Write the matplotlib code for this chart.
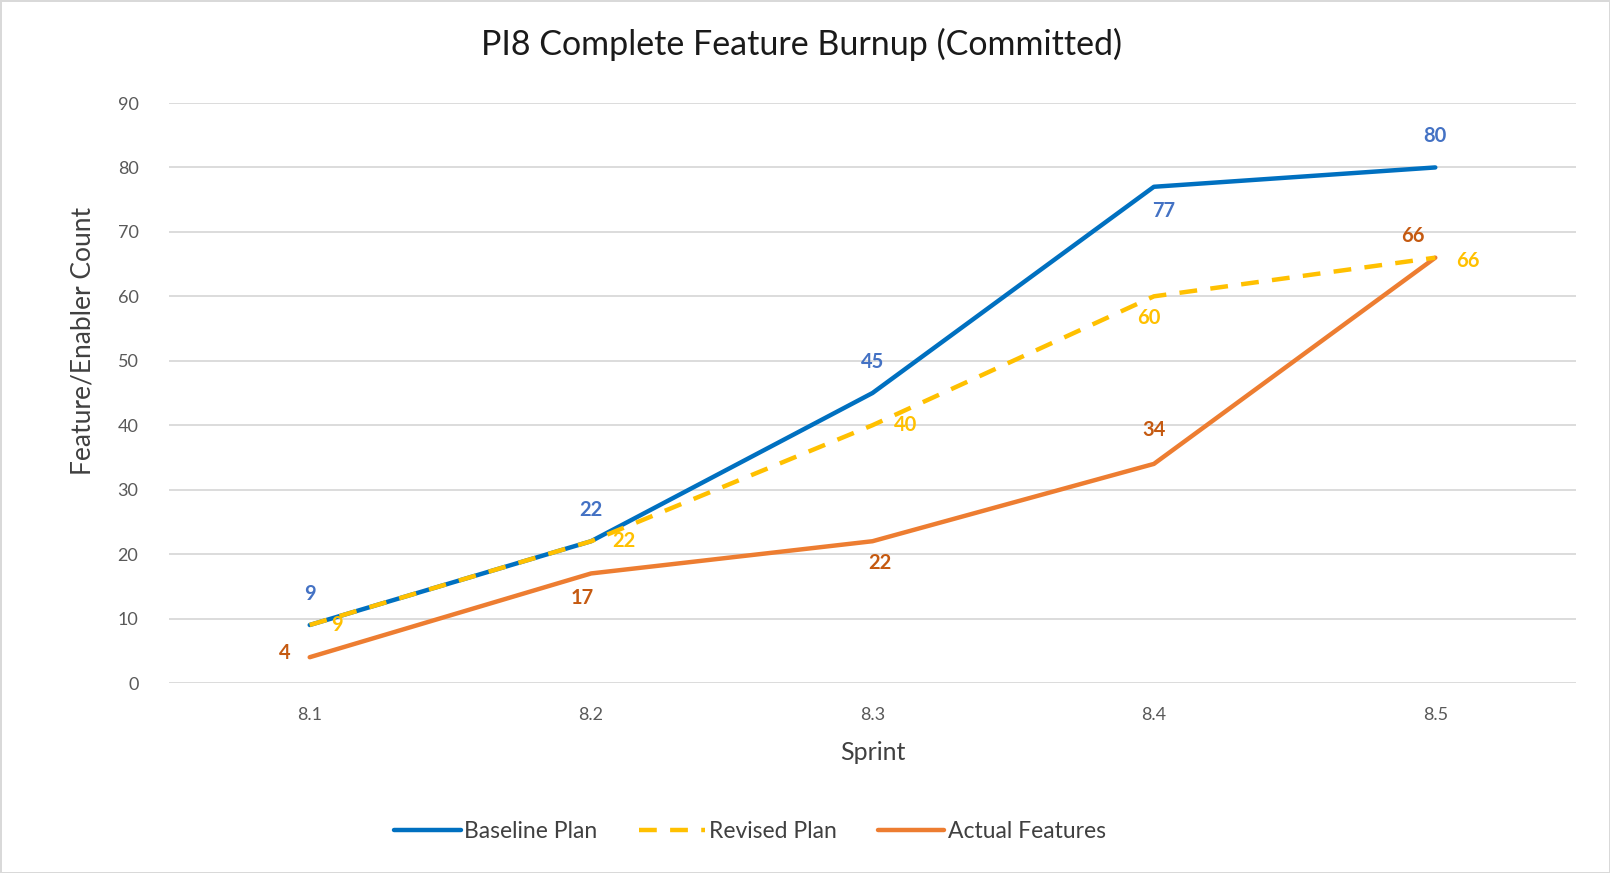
import matplotlib.pyplot as plt

plt.rcParams['font.family'] = ['Lato', 'DejaVu Sans']

# data
sprints = ['8.1', '8.2', '8.3', '8.4', '8.5']
baseline = [9, 22, 45, 77, 80]
revised = [9, 22, 40, 60, 66]
actual = [4, 17, 22, 34, 66]

# label offsets (pixels) for each point
baseline_off = [(0, 31), (0, 31), (0, 31), (10, -24), (0, 31)]
revised_off = [(27, 0), (33, 0), (33, 0), (-5, -22), (33, -3)]
actual_off = [(-25, 4), (-9, -25), (7, -22), (0, 34), (-22, 22)]

fig = plt.figure(figsize=(16.1, 8.73), dpi=100)
fig.patch.set_edgecolor('#d9d9d9')
fig.patch.set_linewidth(2)
ax = fig.add_axes([169 / 1610, 1 - 683 / 873, (1576 - 169) / 1610, (683 - 103) / 873])

x = range(len(sprints))
ax.plot(x, baseline, color='#0070C0', lw=3.2, label='Baseline Plan', solid_capstyle='round', zorder=3)
ax.plot(x, revised, color='#FFC000', lw=3.2, ls=(0, (4, 3)), label='Revised Plan', zorder=4)
ax.plot(x, actual, color='#ED7D31', lw=3.2, label='Actual Features', solid_capstyle='round', zorder=3)

for vals, offs, col in [(baseline, baseline_off, '#4472C4'),
                        (revised, revised_off, '#FFC000'),
                        (actual, actual_off, '#C55A11')]:
    for i, v in enumerate(vals):
        ax.annotate(str(v), (i, v), xytext=offs[i], textcoords='offset pixels',
                    ha='center', va='center', fontsize=14.5, fontweight='bold', color=col)

ax.set_xlim(-0.5, 4.5)
ax.set_ylim(0, 90)
ax.set_yticks(range(0, 91, 10))
ax.set_xticks(list(x))
ax.set_xticklabels(sprints)
ax.grid(axis='y', color='#d9d9d9', lw=1.3)
ax.set_axisbelow(True)
for s in ax.spines.values():
    s.set_visible(False)
ax.tick_params(length=0, labelsize=13, labelcolor='#595959', pad=22)
ax.tick_params(axis='x', pad=17)

ax.set_xlabel('Sprint', fontsize=18, color='#404040')
ax.xaxis.set_label_coords(0.5, -0.1)
ax.set_ylabel('Feature/Enabler Count', fontsize=19, color='#404040')
ax.yaxis.set_label_coords(-0.052, 0.59)
fig.text(801 / 1610, 1 - 44 / 873, 'PI8 Complete Feature Burnup (Committed)',
         ha='center', va='center', fontsize=24.5, color='#1a1a1a')

fig.legend(loc='center', bbox_to_anchor=(750 / 1610, 1 - 832 / 873), ncol=3, frameon=False,
           fontsize=16.5, handlelength=2.9, columnspacing=1.8, handletextpad=0.15,
           labelcolor='#404040')

fig.savefig('out.png', dpi=100)
